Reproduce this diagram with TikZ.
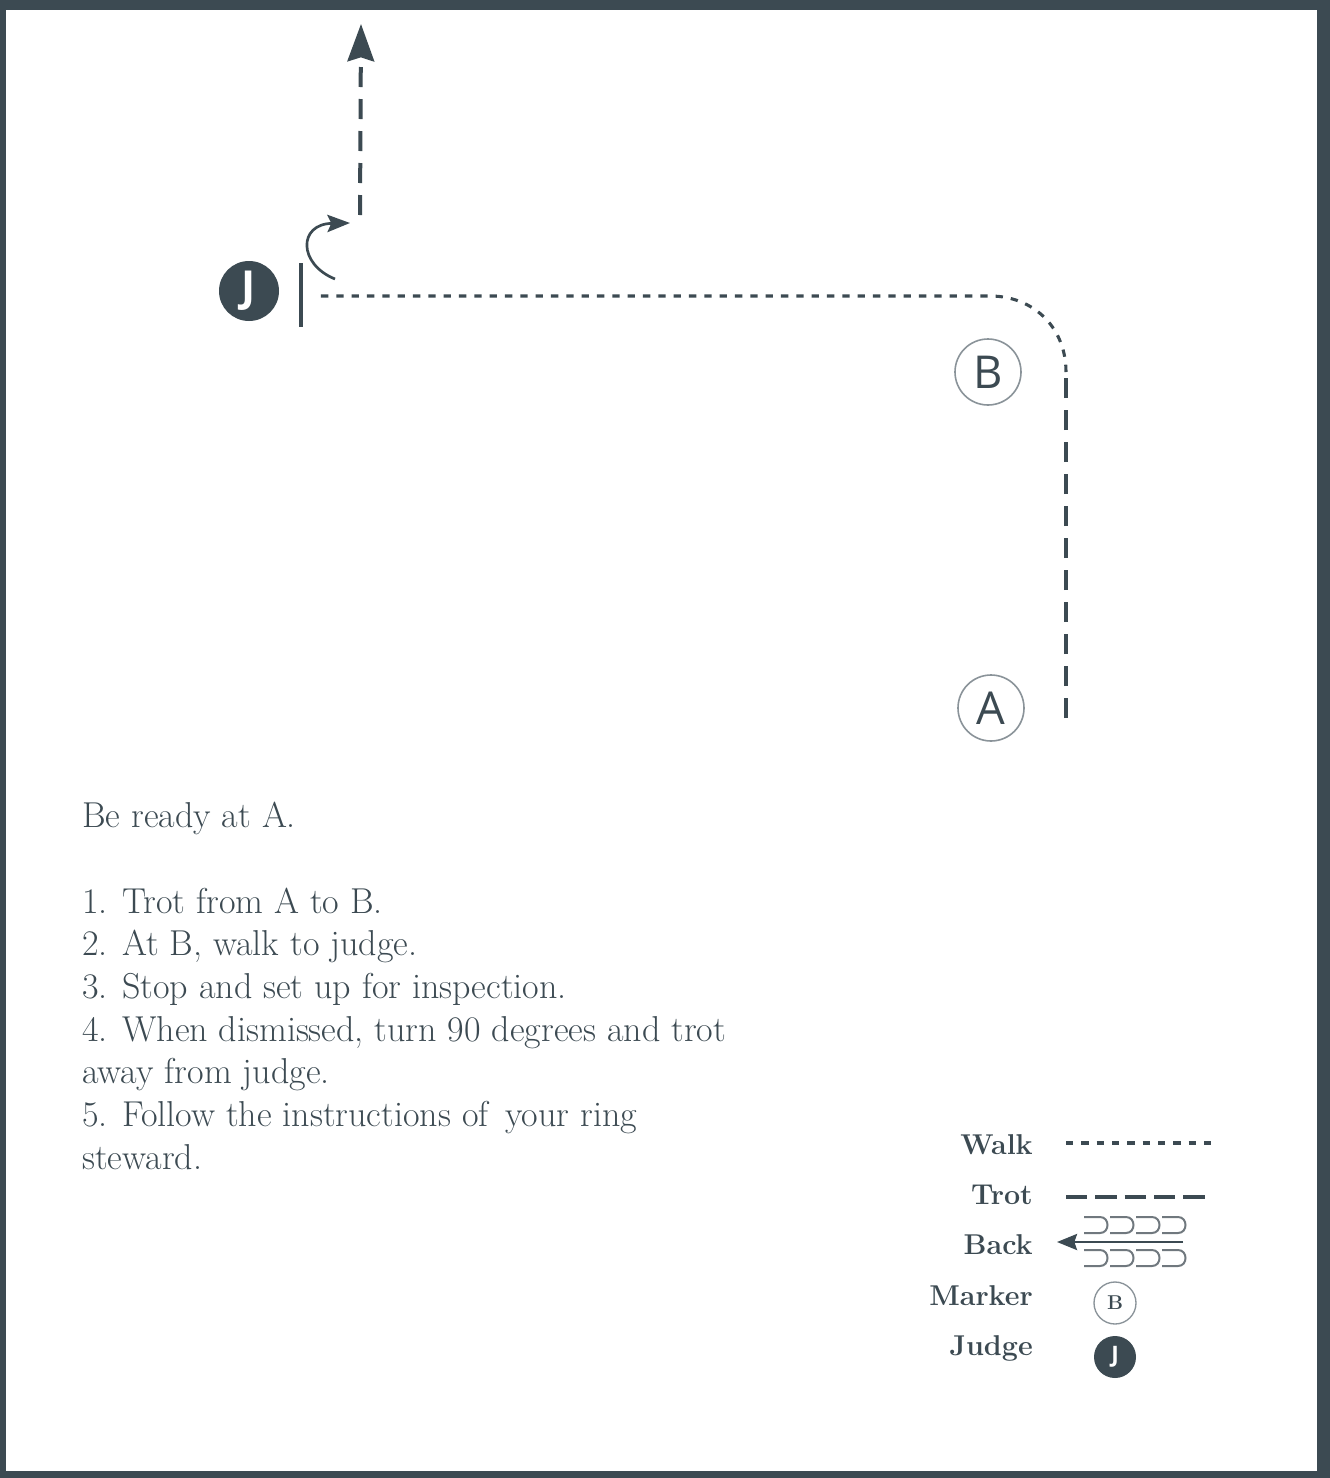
\documentclass[tikz,border=0pt]{standalone}
\usepackage{fontspec}
\usetikzlibrary{arrows.meta}
\newfontfamily\marksans{Open Sans}
\definecolor{ink}{RGB}{60,74,82}
\definecolor{ringgray}{RGB}{138,147,153}
\definecolor{backgray}{RGB}{112,120,126}

\begin{document}
\begin{tikzpicture}[x=0.75pt,y=-0.75pt,
    walk/.style={ink, line width=2.3pt, dash pattern=on 5.5pt off 6pt},
    trot/.style={ink, line width=3pt, dash pattern=on 15pt off 9pt},
    marker/.style={circle, draw=ringgray, line width=1.2pt, minimum size=49.5pt, inner sep=0pt, text=ink, font=\marksans\fontsize{34}{34}\selectfont},
    judge/.style={circle, fill=ink, minimum size=45pt, inner sep=0pt, text=white, font=\marksans\bfseries\fontsize{32}{32}\selectfont},
    legend/.style={anchor=base east, inner sep=0pt, text=ink, font=\bfseries\fontsize{21.5}{21.5}\selectfont}]
    \useasboundingbox (0,0) rectangle (1330,1478);
    % frame
    \fill[ink] (0,0) rectangle (1330,1478);
    \fill[white] (6,10) rectangle (1317,1471);

    % arena
    \node[judge] (judge) at (249,291) {J};
    \coordinate (barTop) at (301,263);
    \coordinate (barBot) at (301,327);
    \draw[ink, line width=3pt] (barTop) -- (barBot);
    \node[marker] (markB) at (988,372) {B};
    \node[marker] (markA) at (991,708) {A};

    \coordinate (ptA) at (1066,718);
    \coordinate (ptB) at (1066,372);
    \coordinate (corner) at (990,296);
    \coordinate (halt) at (315,296);
    \draw[trot] (ptA) -- (ptB);
    \draw[walk] (ptB) .. controls (1066,328) and (1034,296) .. (corner) -- (halt);

    \coordinate (turnFrom) at (335,279);
    \coordinate (turnTo) at (350,223);
    \draw[ink, line width=2pt, -{Stealth[length=17pt, width=13pt, inset=3pt]}] (turnFrom) .. controls (298,264) and (298,224) .. (turnTo);
    \coordinate (exitFrom) at (360,215);
    \coordinate (exitTip) at (361,24);
    \draw[trot, -{Stealth[length=28pt, width=20pt, inset=3pt]}] (exitFrom) -- (exitTip);

    % pattern text (base = last line)
    \node[anchor=base west, inner sep=0pt, align=left, text=ink, font=\fontsize{27}{32}\selectfont] (steps) at (82,1169) {Be ready at A.\\[32pt]
    1. Trot from A to B.\\
    2. At B, walk to judge.\\
    3. Stop and set up for inspection.\\
    4. When dismissed, turn 90 degrees and trot\\
    away from judge.\\
    5. Follow the instructions of\, your ring\\
    steward.};

    % legend
    \node[legend] (lwalk) at (1033,1154) {Walk};
    \node[legend] (ltrot) at (1033,1204) {Trot};
    \node[legend] (lback) at (1033,1254) {Back};
    \node[legend] (lmarker) at (1033,1305) {Marker};
    \node[legend] (ljudge) at (1033,1355) {Judge};
    \coordinate (walkL) at (1066,1143);
    \coordinate (walkR) at (1212,1143);
    \draw[walk] (walkL) -- (walkR);
    \coordinate (trotL) at (1066,1197);
    \coordinate (trotR) at (1212,1197);
    \draw[trot, line width=2.5pt, dash pattern=on 16pt off 6pt] (trotL) -- (trotR);
    \coordinate (backR) at (1183,1242);
    \coordinate (backL) at (1057,1242);
    \draw[ink, line width=2pt, -{Stealth[length=15pt, width=12pt, inset=2pt]}] (backR) -- (backL);
    \foreach \x in {1084,1110,1136,1162} {
        \draw[backgray, line width=1.5pt] (\x,1217) -- (\x+16,1217) .. controls (\x+26,1217) and (\x+26,1233) .. (\x+16,1233) -- (\x,1233);
        \draw[backgray, line width=1.5pt] (\x,1250) -- (\x+16,1250) .. controls (\x+26,1250) and (\x+26,1266) .. (\x+16,1266) -- (\x,1266);
    }
    \node[marker, minimum size=31.5pt, line width=1pt, font=\bfseries\fontsize{15}{15}\selectfont] (legB) at (1115,1303) {B};
    \node[judge, minimum size=31.5pt, font=\marksans\bfseries\fontsize{17}{17}\selectfont] (legJ) at (1115,1357) {J};
\end{tikzpicture}
\end{document}
